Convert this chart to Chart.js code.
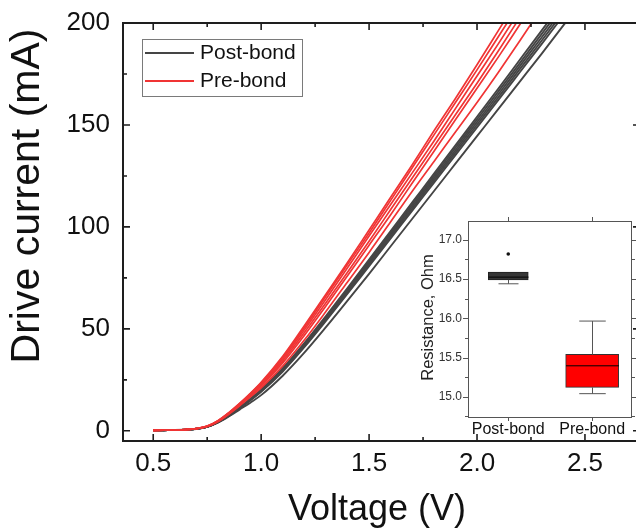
<!DOCTYPE html>
<html>
<head>
<meta charset="utf-8">
<title>Drive current vs voltage</title>
<script src="https://cdn.jsdelivr.net/npm/chart.js@4.4.0/dist/chart.umd.min.js"></script>
<style>
  html, body { margin: 0; padding: 0; background: #fff; overflow: hidden; }
  #wrap { position: relative; width: 636px; height: 531px; overflow: hidden; }
  #mainBox { position: absolute; left: 0; top: 0; }
  #insetBox { position: absolute; left: 410px; top: 210px; }
</style>
</head>
<body>
<div id="wrap">
  <div id="mainBox"><canvas id="main" width="650" height="531"></canvas></div>
  <div id="insetBox"><canvas id="inset" width="235" height="235"></canvas></div>
</div>
<script>
'use strict';

// data

let voltage = [0.5, 0.55, 0.6, 0.65, 0.7, 0.75, 0.8, 0.85, 0.9, 0.95,
  1.0, 1.1, 1.2, 1.3, 1.4, 1.5, 1.6, 1.7, 1.8, 1.9, 2.0, 2.1, 2.2, 2.3, 2.4, 2.5];

// drive current (mA), one row per device
let postBondCurves = [
  [0.2, 0.3, 0.4, 0.6, 1.0, 2.0, 4.4, 7.7, 11.6, 15.7, 20.3, 30.7, 43, 56.3, 70, 84, 98, 112, 126, 140, 154, 168, 182.2, 196.4, 210.6],
  [0.2, 0.3, 0.4, 0.6, 1.0, 2.0, 4.3, 7.6, 11.4, 15.5, 20, 30.3, 42.5, 55.7, 69.3, 83.2, 97.1, 111, 124.9, 138.8, 152.7, 166.6, 180.6, 194.7, 208.8],
  [0.2, 0.3, 0.4, 0.6, 1.0, 2.0, 4.3, 7.5, 11.3, 15.3, 19.7, 29.9, 42, 55.1, 68.6, 82.4, 96.2, 110, 123.8, 137.6, 151.4, 165.2, 179.1, 193, 207],
  [0.2, 0.3, 0.4, 0.6, 1.0, 2.0, 4.2, 7.4, 11.1, 15.1, 19.4, 29.5, 41.5, 54.5, 67.9, 81.6, 95.3, 109, 122.7, 136.4, 150.1, 163.8, 177.6, 191.4, 205.3],
  [0.2, 0.3, 0.4, 0.6, 1.0, 1.9, 4.2, 7.3, 11.0, 14.9, 19.1, 29.1, 41, 53.9, 67.2, 80.8, 94.4, 108, 121.6, 135.2, 148.8, 162.4, 176.1, 189.8, 203.6],
  [0.2, 0.3, 0.4, 0.6, 0.9, 1.9, 4.0, 7.0, 10.4, 13.8, 17.5, 27, 38.3, 50.8, 63.8, 77, 90.5, 104, 117.5, 131, 144.5, 158, 171.5, 185, 198.8, 212.5]
];
let preBondCurves = [
  [0.2, 0.3, 0.4, 0.6, 1.1, 2.3, 5.0, 8.9, 13.4, 18.4, 23.8, 36.5, 51.5, 67, 82.5, 98.5, 114.5, 130.5, 147, 163, 179.5, 196.5, 213.5],
  [0.2, 0.3, 0.4, 0.6, 1.1, 2.3, 4.9, 8.8, 13.3, 18.2, 23.5, 36, 50.5, 66, 81.5, 97, 113, 129, 145, 161, 177, 193.5, 210],
  [0.2, 0.3, 0.4, 0.6, 1.1, 2.2, 4.8, 8.6, 13.0, 17.8, 23.0, 35.2, 49.5, 64.5, 80, 95.5, 111, 126.5, 142, 158, 174, 190, 206.5],
  [0.2, 0.3, 0.4, 0.6, 1.1, 2.2, 4.7, 8.5, 12.8, 17.5, 22.5, 34.3, 48.2, 62.8, 77.8, 93, 108.5, 124, 139.5, 155, 170.5, 186.5, 203],
  [0.2, 0.3, 0.4, 0.6, 1.0, 2.1, 4.6, 8.3, 12.5, 17.1, 21.9, 33.3, 46.8, 61.2, 76, 91, 106, 121.5, 137, 152.5, 168, 183.5, 199.5, 215.5],
  [0.2, 0.3, 0.4, 0.6, 1.0, 2.1, 4.5, 8.1, 12.2, 16.6, 21.1, 31.8, 44.5, 58.5, 73, 87.5, 102.5, 117.5, 132, 146.5, 161, 176, 191.5, 207.5]
];
let voltageTicks = [0.5, 1.0, 1.5, 2.0, 2.5];
let currentTicks = [0, 50, 100, 150, 200];

// inset box plot, resistance in Ohm
let groups = ['Post-bond', 'Pre-bond'];
let boxLow = [16.49, 15.12];
let boxHigh = [16.59, 15.54];
let medians = [16.525, 15.395];
let whiskerLow = [16.44, 15.04];
let whiskerHigh = [16.59, 15.965];
let outliers = [16.82, null];
let resistanceTicks = [15.0, 15.5, 16.0, 16.5, 17.0];

let postColor = '#454545';
let preColor = '#f03434';
let fontFamily = '"Liberation Sans", Arial, sans-serif';

// main chart

function curvePoints(row) {
  let pts = [];
  for (let i = 0; i < row.length; i++) {
    pts.push({ x: voltage[i], y: row[i] });
  }
  return pts;
}

// keep the plot box where the figure has it, labels may overhang
function noLabelPadding(scale) {
  scale.paddingTop = 0;
  scale.paddingBottom = 0;
  scale.paddingLeft = 0;
  scale.paddingRight = 0;
}

let mainDatasets = [];
for (let i = 0; i < preBondCurves.length; i++) {
  mainDatasets.push({
    label: 'Pre-bond',
    data: curvePoints(preBondCurves[i]),
    borderColor: preColor,
    borderWidth: 1.7,
    pointRadius: 0,
    cubicInterpolationMode: 'monotone'
  });
}
for (let i = 0; i < postBondCurves.length; i++) {
  mainDatasets.push({
    label: 'Post-bond',
    data: curvePoints(postBondCurves[i]),
    borderColor: postColor,
    borderWidth: 1.9,
    pointRadius: 0,
    cubicInterpolationMode: 'monotone'
  });
}

let mainFrame = {
  id: 'mainFrame',
  afterDraw(chart) {
    let ctx = chart.ctx;
    let a = chart.chartArea;
    let x = chart.scales.x;
    let y = chart.scales.y;
    ctx.save();
    ctx.strokeStyle = '#1e1e1e';
    ctx.lineWidth = 2;
    ctx.strokeRect(a.left, a.top, a.right - a.left, a.bottom - a.top);

    // inward ticks on all four sides
    ctx.lineWidth = 1.6;
    ctx.beginPath();
    for (let i = 0; i < voltageTicks.length; i++) {
      let vals = [voltageTicks[i], voltageTicks[i] + 0.25];
      for (let k = 0; k < 2; k++) {
        if (vals[k] > x.max - 0.02) continue;
        let px = x.getPixelForValue(vals[k]);
        let len = k === 0 ? 7 : 4;
        ctx.moveTo(px, a.bottom); ctx.lineTo(px, a.bottom - len);
        ctx.moveTo(px, a.top); ctx.lineTo(px, a.top + len);
      }
    }
    for (let i = 0; i < currentTicks.length; i++) {
      let vals = [currentTicks[i], currentTicks[i] + 25];
      for (let k = 0; k < 2; k++) {
        if (vals[k] > y.max) continue;
        let py = y.getPixelForValue(vals[k]);
        let len = k === 0 ? 7 : 4;
        ctx.moveTo(a.left, py); ctx.lineTo(a.left + len, py);
        ctx.moveTo(a.right, py); ctx.lineTo(a.right - len, py);
      }
    }
    ctx.stroke();

    // legend box
    let lx = a.left + 19;
    let ly = a.top + 16;
    ctx.strokeStyle = '#7a7a7a';
    ctx.lineWidth = 1;
    ctx.strokeRect(lx + 0.5, ly + 0.5, 160, 57);
    ctx.lineWidth = 2;
    ctx.strokeStyle = postColor;
    ctx.beginPath(); ctx.moveTo(lx + 3, ly + 14); ctx.lineTo(lx + 52, ly + 14); ctx.stroke();
    ctx.strokeStyle = preColor;
    ctx.beginPath(); ctx.moveTo(lx + 3, ly + 42); ctx.lineTo(lx + 52, ly + 42); ctx.stroke();
    ctx.fillStyle = '#111';
    ctx.font = '21px ' + fontFamily;
    ctx.textAlign = 'left';
    ctx.textBaseline = 'middle';
    ctx.fillText('Post-bond', lx + 58, ly + 14);
    ctx.fillText('Pre-bond', lx + 58, ly + 42);

    // axis titles
    ctx.textAlign = 'center';
    ctx.font = '36px ' + fontFamily;
    ctx.fillText('Voltage (V)', 377, 510);
    ctx.font = '41px ' + fontFamily;
    ctx.translate(28, 196);
    ctx.rotate(-Math.PI / 2);
    ctx.fillText('Drive current (mA)', 0, 0);
    ctx.restore();
  }
};

let mainChart = new Chart(document.getElementById('main'), {
  type: 'line',
  data: { datasets: mainDatasets },
  options: {
    responsive: false,
    animation: false,
    layout: { padding: { top: 23, right: 10, left: 0, bottom: 0 } },
    plugins: { legend: { display: false }, tooltip: { enabled: false } },
    scales: {
      x: {
        type: 'linear',
        min: 0.36,
        max: 2.755,
        grid: { display: false, drawTicks: false },
        border: { display: false },
        afterBuildTicks: (scale) => { scale.ticks = voltageTicks.map(v => ({ value: v })); },
        afterFit: (scale) => { scale.height = 90; noLabelPadding(scale); },
        ticks: {
          padding: 7,
          color: '#111',
          font: { family: fontFamily, size: 26 },
          callback: (v) => Number(v).toFixed(1)
        }
      },
      y: {
        type: 'linear',
        min: -5,
        max: 200,
        grid: { display: false, drawTicks: false },
        border: { display: false },
        afterBuildTicks: (scale) => { scale.ticks = currentTicks.map(v => ({ value: v })); },
        afterFit: (scale) => { scale.width = 123; noLabelPadding(scale); },
        ticks: {
          padding: 13,
          color: '#111',
          font: { family: fontFamily, size: 26 }
        }
      }
    }
  },
  plugins: [mainFrame]
});

// inset box plot

let insetParts = {
  id: 'insetParts',
  beforeDraw(chart) {
    let a = chart.chartArea;
    chart.ctx.save();
    chart.ctx.fillStyle = '#fff';
    chart.ctx.fillRect(a.left, a.top, a.right - a.left, a.bottom - a.top);
    chart.ctx.restore();
  },
  afterDatasetsDraw(chart) {
    let ctx = chart.ctx;
    let x = chart.scales.x;
    let y = chart.scales.y;
    let widths = [40, 53];
    ctx.save();
    for (let i = 0; i < groups.length; i++) {
      let cx = Math.round(x.getPixelForValue(i + 1)) + 0.5;
      let half = widths[i] / 2;
      ctx.strokeStyle = '#555';
      ctx.lineWidth = 1;
      ctx.beginPath();
      if (whiskerHigh[i] > boxHigh[i]) {
        ctx.moveTo(cx, y.getPixelForValue(boxHigh[i]));
        ctx.lineTo(cx, y.getPixelForValue(whiskerHigh[i]));
        ctx.moveTo(cx - half / 2, y.getPixelForValue(whiskerHigh[i]));
        ctx.lineTo(cx + half / 2, y.getPixelForValue(whiskerHigh[i]));
      }
      ctx.moveTo(cx, y.getPixelForValue(boxLow[i]));
      ctx.lineTo(cx, y.getPixelForValue(whiskerLow[i]));
      ctx.moveTo(cx - half / 2, y.getPixelForValue(whiskerLow[i]));
      ctx.lineTo(cx + half / 2, y.getPixelForValue(whiskerLow[i]));
      ctx.stroke();
      ctx.strokeStyle = '#000';
      ctx.beginPath();
      ctx.moveTo(cx - half, y.getPixelForValue(medians[i]));
      ctx.lineTo(cx + half, y.getPixelForValue(medians[i]));
      ctx.stroke();
    }
    ctx.restore();
  },
  afterDraw(chart) {
    let ctx = chart.ctx;
    let a = chart.chartArea;
    let x = chart.scales.x;
    let y = chart.scales.y;
    ctx.save();
    ctx.strokeStyle = '#555';
    ctx.lineWidth = 1;
    ctx.strokeRect(a.left + 0.5, a.top + 0.5, a.right - a.left - 1, a.bottom - a.top - 1);
    ctx.beginPath();
    for (let i = 0; i < resistanceTicks.length; i++) {
      let vals = [resistanceTicks[i], resistanceTicks[i] - 0.25];
      for (let k = 0; k < 2; k++) {
        if (vals[k] < y.min) continue;
        let py = Math.round(y.getPixelForValue(vals[k])) + 0.5;
        let len = k === 0 ? 5 : 3;
        ctx.moveTo(a.left, py); ctx.lineTo(a.left - len, py);
        ctx.moveTo(a.right, py); ctx.lineTo(a.right + len, py);
      }
    }
    for (let i = 0; i < groups.length; i++) {
      let px = Math.round(x.getPixelForValue(i + 1)) + 0.5;
      ctx.moveTo(px, a.top); ctx.lineTo(px, a.top - 4);
      ctx.moveTo(px, a.bottom); ctx.lineTo(px, a.bottom + 3);
    }
    ctx.stroke();
    ctx.fillStyle = '#222';
    ctx.font = '16.5px ' + fontFamily;
    ctx.textAlign = 'center';
    ctx.textBaseline = 'middle';
    ctx.translate(18, (a.top + a.bottom) / 2 - 2);
    ctx.rotate(-Math.PI / 2);
    ctx.fillText('Resistance, Ohm', 0, 0);
    ctx.restore();
  }
};

let insetChart = new Chart(document.getElementById('inset'), {
  type: 'bar',
  data: {
    datasets: [
      {
        label: groups[0],
        data: [{ x: 1, y: [boxLow[0], boxHigh[0]] }],
        backgroundColor: '#363636',
        borderColor: '#222',
        borderWidth: 1,
        borderSkipped: false,
        barThickness: 40,
        grouped: false
      },
      {
        label: groups[1],
        data: [{ x: 2, y: [boxLow[1], boxHigh[1]] }],
        backgroundColor: '#ff0000',
        borderColor: '#333',
        borderWidth: 1,
        borderSkipped: false,
        barThickness: 53,
        grouped: false
      },
      {
        type: 'scatter',
        label: 'outliers',
        data: outliers.map((v, i) => ({ x: i + 1, y: v })).filter(p => p.y !== null),
        pointRadius: 1.8,
        backgroundColor: '#111',
        borderWidth: 0
      }
    ]
  },
  options: {
    responsive: false,
    animation: false,
    layout: { padding: { top: 11, right: 13, left: 0, bottom: 0 } },
    plugins: { legend: { display: false }, tooltip: { enabled: false } },
    scales: {
      x: {
        type: 'linear',
        offset: false,
        min: 0.52,
        max: 2.475,
        grid: { display: false, drawTicks: false },
        border: { display: false },
        afterBuildTicks: (scale) => { scale.ticks = groups.map((g, i) => ({ value: i + 1 })); },
        afterFit: (scale) => { scale.height = 27; noLabelPadding(scale); },
        ticks: {
          padding: 2,
          color: '#111',
          font: { family: fontFamily, size: 16 },
          callback: (v) => groups[v - 1]
        }
      },
      y: {
        type: 'linear',
        min: 14.73,
        max: 17.24,
        grid: { display: false, drawTicks: false },
        border: { display: false },
        afterBuildTicks: (scale) => { scale.ticks = resistanceTicks.map(v => ({ value: v })); },
        afterFit: (scale) => { scale.width = 58; noLabelPadding(scale); },
        ticks: {
          padding: 6,
          color: '#333',
          font: { family: fontFamily, size: 12 },
          callback: (v) => Number(v).toFixed(1)
        }
      }
    }
  },
  plugins: [insetParts]
});
</script>
</body>
</html>
